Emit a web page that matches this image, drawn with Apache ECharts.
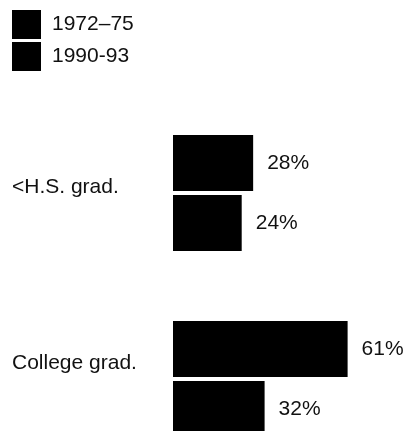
<!DOCTYPE html>
<html>
<head>
<meta charset="utf-8">
<script src="https://cdn.jsdelivr.net/npm/echarts@6/dist/echarts.min.js"></script>
<style>
  html, body { margin: 0; padding: 0; background: #fff; }
  #chart { width: 407px; height: 431px; }
</style>
</head>
<body>
<div id="chart"></div>
<script>
// data
const categories = ['<H.S. grad.', 'College grad.']
const periods = ['1972–75', '1990-93']
const values7275 = [28, 61]
const values9093 = [24, 32]

let chart = echarts.init(document.getElementById('chart'))
const font = 'Liberation Sans, Arial, Helvetica, sans-serif'

function barSeries(name, data) {
  return {
    name: name,
    type: 'bar',
    data: data,
    barWidth: 56,
    barGap: '7%',
    itemStyle: { color: '#000' },
    label: {
      show: true,
      position: 'right',
      distance: 14,
      formatter: '{c}%',
      color: '#111',
      fontFamily: font,
      fontSize: 21
    },
    animation: false
  }
}

chart.setOption({
  backgroundColor: '#fff',
  legend: {
    data: periods,
    orient: 'vertical',
    left: 12,
    top: 10,
    padding: 0,
    itemWidth: 29,
    itemHeight: 29,
    itemGap: 3,
    icon: 'rect',
    textStyle: { color: '#111', fontFamily: font, fontSize: 21, padding: [0, 0, 0, 6] }
  },
  grid: { left: 173, top: 100, width: 229, height: 372, outerBoundsMode: 'none', containLabel: false },
  xAxis: {
    type: 'value',
    min: 0,
    max: 80,
    show: false
  },
  yAxis: {
    type: 'category',
    data: categories,
    inverse: true,
    axisLine: { show: false },
    axisTick: { show: false },
    axisLabel: {
      align: 'left',
      margin: 161,
      formatter: function (v, i) {
        return i === 0 ? '{a|' + v + '}' : '{b|' + v + '}'
      },
      rich: {
        a: { color: '#111', fontFamily: font, fontSize: 21, padding: [0, 0, 12, 0] },
        b: { color: '#111', fontFamily: font, fontSize: 21, padding: [0, 0, 32, 0] }
      }
    }
  },
  series: [
    barSeries(periods[0], values7275),
    barSeries(periods[1], values9093)
  ]
})
</script>
</body>
</html>
